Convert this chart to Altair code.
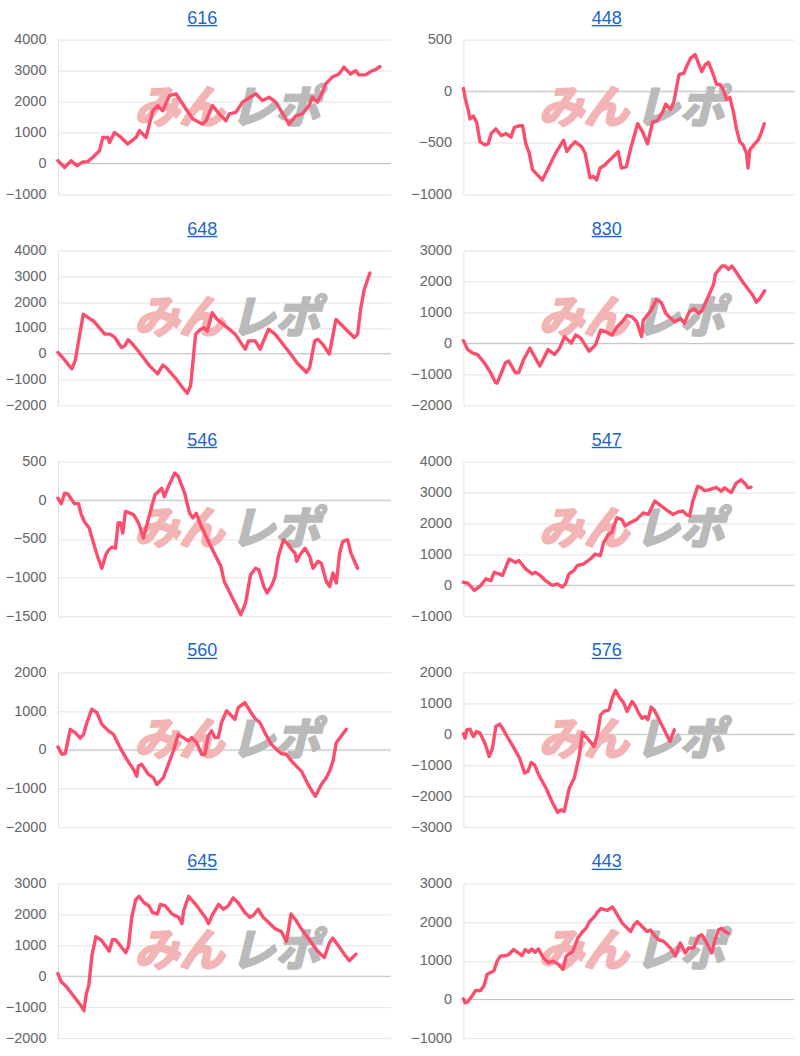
import altair as alt
import pandas as pd

# ---- series (x = position in session, %, y = cumulative difference) ----
x_616 = [0,2,4,5.7,7.5,9,10.5,12.5,13.5,15,15.5,17,19,21,23.5,24.5,26.5,28.5,30,31.5,
         33.5,35.5,38.5,40.5,43.5,44.5,46.5,48.5,50.5,51.5,53.5,55.5,59.5,61.5,63.5,65.5,69.5,71.5,73.5,75.5,
         76.5,78,79.5,80.5,82.5,84.5,86,88,89.5,90.5,92.5,94.5,95.5,96.8]
y_616 = [90,-130,90,-75,50,60,200,410,840,840,680,1000,840,630,840,1060,840,1700,1870,1700,
         2190,2250,1760,1440,1270,1380,1870,1600,1380,1600,1650,1980,2250,2030,2140,1980,1270,1540,1600,1870,
         2140,1980,2300,2570,2790,2890,3110,2890,3000,2860,2860,3000,3030,3130]

x_448 = [0,0.5,1.5,2,3,4,5,6.5,7.5,8.4,9.8,10.7,11.4,12.9,14.4,15.4,16.9,17.9,18.9,19.9,
         20.9,22.4,23.9,25.9,27.9,30.3,31.3,32.3,33.8,35.8,36.8,38.3,39.3,40.3,41.3,42.8,43.8,45.3,46.8,47.8,
         49.3,50.7,52.7,54.2,55.7,57.2,58.7,60.2,61.2,62.7,63.7,65.2,66.7,67.7,68.7,70.1,71.1,72.1,73.1,74.1,
         75.1,76.6,77.6,78.6,79.6,80.6,81.6,82.6,83.6,84.6,85.6,86.1,86.6,88.1,89.1,90,91]
y_448 = [26,-62,-190,-270,-240,-300,-490,-520,-510,-410,-365,-400,-430,-410,-445,-350,-335,-335,-510,-600,
         -760,-810,-860,-730,-600,-475,-585,-540,-490,-540,-600,-840,-825,-860,-745,-715,-680,-635,-585,-745,
         -730,-540,-315,-395,-510,-300,-285,-205,-125,-175,-95,160,175,255,320,355,270,190,255,280,
         205,65,65,15,-80,-60,-190,-365,-490,-520,-600,-745,-570,-510,-475,-410,-315]

x_648 = [0,2.2,4.2,5.2,7.6,9.1,10.7,14.1,15.7,17.1,19.1,20.1,21.1,22,24.5,27.5,30,31.5,32.5,35.5,
         37.4,38.9,39.9,41.4,42.9,43.9,44.9,46.4,47.9,50.3,53.3,56.3,57.3,59.3,60.8,63.3,65.3,69.2,72.2,74.7,
         75.7,77.2,78.2,79.6,81.6,83.6,85.1,87.1,89.1,90.1,91,92.1,93.8]
y_648 = [50,-270,-590,-270,1530,1400,1270,760,760,630,240,310,540,440,50,-460,-780,-440,-530,-970,
         -1300,-1530,-1230,760,950,1010,880,1590,1330,1080,760,180,500,500,180,950,760,115,-400,-720,
         -530,500,560,370,-10,1330,1140,880,630,760,1720,2490,3130]

x_830 = [0,1.3,2.8,4.3,6.3,8.2,9.7,10.2,11.7,12.7,13.7,15.7,16.7,18.2,20.1,23.1,25.6,27.6,29.1,30.6,
         32.6,34,35.5,38,40,41.5,43,45,46.5,48,49.5,51,52.4,53.9,54.4,56.8,58.3,59.8,61.3,63.8,
         65.8,66.8,68.3,69.8,71.2,72.2,74.2,75.7,76.2,78.2,79.2,80.2,81.2,82.6,84.6,86.1,87.6,88.6,89.6,91.1]
y_830 = [85,-200,-310,-360,-625,-940,-1260,-1280,-890,-625,-570,-940,-940,-520,-150,-730,-200,-360,-150,220,
         10,275,170,-250,-40,430,380,275,540,700,910,860,700,220,750,1070,1410,1330,960,700,
         800,650,1020,1120,960,1070,1550,1920,2240,2500,2500,2390,2500,2290,1970,1760,1550,1330,1440,1700]

x_546 = [0,1,2,3,4,5,6.2,6.9,7.9,9.4,10.4,11.9,13.2,14.4,15.3,16.3,17.3,18.1,18.8,19.5,
         20.3,21.8,22.8,24.3,25.7,28.2,29.2,31.2,32,33.2,35.1,36.1,38.1,39.6,40.6,41.6,43.1,45,47,49,
         50,51.5,53,55,56.4,57.9,59.4,60.4,61.9,62.9,64.4,65.3,66.3,67.8,69.3,70.3,71.3,71.8,72.8,74.3,
         75.7,76.7,78.2,79.2,80.7,81.7,82.7,83.7,84.7,85.6,87.1,88.1,90.1]
y_546 = [25,-45,90,80,15,-45,-45,-170,-275,-360,-510,-725,-880,-705,-640,-605,-620,-295,-290,-425,
         -145,-170,-190,-300,-490,-80,70,155,45,175,350,315,90,-170,-230,-170,-340,-510,-685,-855,
         -1050,-1180,-1310,-1480,-1330,-965,-880,-900,-1115,-1200,-1090,-985,-725,-510,-575,-640,-685,-790,-705,-620,
         -725,-880,-790,-815,-1050,-1115,-940,-1070,-685,-535,-510,-685,-880]

x_547 = [0,1.3,3.3,5.3,6.8,8.3,9.3,10.8,11.8,13.8,15.8,16.8,18.8,20.8,21.8,23.3,24.8,26.9,28.4,29.9,
         30.9,31.9,33.4,34.4,36.4,38.4,39.9,41.4,42.4,43.9,44.9,46.4,47.9,48.9,50.4,52.4,54.4,55.9,57.9,59.9,
         61.9,63.4,64.9,66.4,67.4,68.4,69.4,70.9,71.9,72.9,74.4,76.5,78,79,81,82.5,84,85.5,86,87]
y_547 = [100,70,-165,0,210,150,420,370,315,850,740,800,530,370,420,315,150,0,50,-60,
         50,370,475,635,690,850,1010,955,1380,1650,1710,2180,2130,1920,2020,2130,2340,2290,2720,2560,
         2400,2290,2370,2400,2290,2240,2720,3200,3150,3060,3090,3160,3040,3150,2990,3300,3410,3250,3150,3170]

x_560 = [0,1.2,2.2,3.7,5.2,6.7,7.7,8.7,10.2,11.7,13.2,15.2,16.7,18.7,20.7,22.7,23.7,24.2,25.2,27.2,
         28.7,29.7,30.7,31.7,33.2,34.7,36.2,37.7,39.2,40.2,41.7,43.2,44.2,45.2,46.2,47.2,48.2,49.2,50.7,52.2,
         53.2,54.2,56.2,57.7,59.2,60.7,62.2,64.2,66.2,67.2,68.7,70.2,71.7,73.2,75.2,76.7,77.4,78.2,79.2,80.7,
         81.7,82.7,83.7,85.2,86.7]
y_560 = [75,-115,-100,530,445,300,400,705,1050,965,660,490,400,55,-245,-505,-680,-420,-375,-635,
         -720,-895,-810,-720,-375,-30,400,315,230,315,185,-115,-115,360,490,315,315,705,1010,880,
         790,1090,1220,1010,815,705,445,140,-30,-100,-115,-290,-420,-550,-895,-1110,-1200,-1070,-895,-720,
         -550,-290,185,360,530]

x_576 = [0,0.5,1,2,3,4,5,6.5,7.8,8.8,9.8,11,12,13.5,15,17,18.5,19.5,20.5,21.5,
         23,25,27,28.5,29.5,30.5,32,33.5,35,36,37.5,39.5,40.5,41.5,42.5,44,45.2,46,47,48.5,
         49.5,51,52,53,54,55,55.8,56.8,57.8,59,60.5,62.5,63,63.8]
y_576 = [15,-120,145,165,-70,90,40,-285,-715,-445,255,330,165,-125,-390,-770,-1250,-1200,-910,-985,
         -1360,-1740,-2220,-2520,-2440,-2490,-1740,-1420,-715,40,-125,-390,-15,630,740,790,1225,1420,1225,1010,
         740,1060,920,685,520,575,470,880,770,520,200,-230,-70,145]

x_645 = [0,1,2.5,4,5.5,7,7.8,8.5,9.3,10.2,11.4,12.9,14.4,15.4,16.4,17.4,18.9,20.4,21.2,22.2,
         23.4,24.4,25.9,27.4,28.4,29.9,30.8,32.3,34.3,36.3,37.3,37.8,39.3,41.8,44.3,45.3,46.3,48.3,49.8,51.2,
         52.7,54.2,56.2,57.7,58.7,60.2,61.7,63.7,65.2,67.2,68.7,70.1,71.6,73.1,75.6,78.1,80.1,81.6,82.6,84.1,
         86.1,87.6,88.6,89.6]
y_645 = [85,-180,-330,-540,-750,-960,-1115,-590,-280,655,1280,1180,970,810,1180,1180,970,760,970,1905,
         2480,2580,2375,2270,2060,2010,2320,2270,2010,1905,1700,2115,2580,2270,1905,1700,1960,2320,2165,2270,
         2530,2375,2060,1905,1960,2165,1905,1700,1540,1440,1125,2010,1800,1540,1180,810,605,1075,1230,1020,
         710,500,605,710]

x_443 = [0,0.5,1.2,2.7,3.7,5.2,6.2,7.2,8.2,9.2,10.2,11.2,12.7,13.7,15.2,16.7,17.7,18.7,19.7,20.7,
         21.7,22.7,24.2,25.7,27.2,28.7,30.1,31.1,33.1,34.6,36.1,37.1,38.1,39.6,40.6,41.6,42.6,43.6,45.1,46.6,
         48.1,49.6,50.6,51.6,52.6,54.1,55.6,56.6,57.6,59.1,60.6,62.6,64.1,65.6,67.1,68.1,69.6,71.1,72.1,73.1,
         75.1,76.1,77.1,78.1,79.1,80.1]
y_443 = [15,-85,-70,100,230,230,355,650,695,735,990,1120,1135,1160,1290,1200,1135,1290,1220,1305,
         1220,1305,1075,950,990,905,780,1120,1245,1585,1755,1840,2010,2135,2260,2350,2320,2305,2390,2180,
         1965,1840,1755,1925,2010,1880,1755,1795,1670,1540,1500,1330,1120,1460,1200,1330,1330,1625,1670,1540,
         1200,1540,1795,1840,1755,1710]

titles = ["616", "448", "648", "830", "546", "547", "560", "576", "645", "443"]
series_x = [x_616, x_448, x_648, x_830, x_546, x_547, x_560, x_576, x_645, x_443]
series_y = [y_616, y_448, y_648, y_830, y_546, y_547, y_560, y_576, y_645, y_443]
y_min = [-1000, -1000, -2000, -2000, -1500, -1000, -2000, -3000, -2000, -1000]
y_max = [4000, 500, 4000, 3000, 500, 4000, 2000, 2000, 3000, 3000]
y_step = [1000, 500, 1000, 1000, 500, 1000, 1000, 1000, 1000, 1000]

LINE = "#fb4e6c"
BLUE = "#1b66c9"
PINK_WM = "#f2b4b4"
GRAY_WM = "#bababa"
H = 155


def panel(name, xs, ys, lo, hi, step, width):
    ticks = list(range(lo, hi + 1, step))
    yscale = alt.Scale(domain=[lo, hi], nice=False, zero=False)
    xscale = alt.Scale(domain=[0, 100], nice=False, zero=False)
    yaxis = alt.Axis(values=ticks, format="d", title=None, ticks=False, grid=True,
                     gridColor="#e3e3e3", domainColor="#e0e0e0",
                     labelColor="#666666", labelFontSize=14.5, labelFont="Liberation Sans",
                     labelPadding=12, minExtent=50, maxExtent=50,
                     labelFlush=False, labelOverlap=False)
    zero = alt.Chart(pd.DataFrame({"v": [0]})).mark_rule(
        color="#c4c4c4", strokeWidth=1).encode(
        y=alt.Y("v:Q", scale=yscale, axis=yaxis))
    cx = width / 2
    wm1 = alt.Chart(pd.DataFrame({"t": ["みん"]})).mark_text(
        font="Noto Sans CJK JP", fontSize=45, fontWeight="bold", fontStyle="italic",
        color=PINK_WM, stroke=PINK_WM, strokeWidth=2.5, strokeJoin="round",
        align="right", baseline="middle").encode(
        text="t:N", x=alt.value(cx), y=alt.value(69))
    wm2 = alt.Chart(pd.DataFrame({"t": ["レポ"]})).mark_text(
        font="Noto Sans CJK JP", fontSize=45, fontWeight="bold", fontStyle="italic",
        color=GRAY_WM, stroke=GRAY_WM, strokeWidth=2.5, strokeJoin="round",
        align="left", baseline="middle").encode(
        text="t:N", x=alt.value(cx + 6), y=alt.value(69))
    line = alt.Chart(pd.DataFrame({"x": xs, "v": ys})).mark_line(
        color=LINE, strokeWidth=3.4, strokeJoin="round", strokeCap="round").encode(
        x=alt.X("x:Q", scale=xscale, axis=None),
        y=alt.Y("v:Q", scale=yscale, axis=yaxis))
    tx = cx - 22
    title = alt.Chart(pd.DataFrame({"t": [name]})).mark_text(
        font="Liberation Sans", fontSize=18, color=BLUE, align="center",
        baseline="alphabetic").encode(
        text="t:N", x=alt.value(tx), y=alt.value(-16))
    underline = alt.Chart(pd.DataFrame({"t": [name]})).mark_rule(
        color=BLUE, strokeWidth=1.4).encode(
        x=alt.value(tx - 15), x2=alt.value(tx + 15), y=alt.value(-14))
    return alt.layer(zero, wm1, wm2, line, title, underline).properties(width=width, height=H)


panels = []
for i in range(10):
    w = 333 if i % 2 == 0 else 331
    panels.append(panel(titles[i], series_x[i], series_y[i], y_min[i], y_max[i], y_step[i], w))

rows = [alt.hconcat(panels[2 * r], panels[2 * r + 1], spacing=19) for r in range(5)]
chart = alt.vconcat(*rows, spacing=19.2).configure_view(stroke=None).properties(
    padding={"left": 5, "top": 9, "right": 5, "bottom": 5}, background="white")

chart.save("out.html", embed_options={"renderer": "svg", "actions": False})
